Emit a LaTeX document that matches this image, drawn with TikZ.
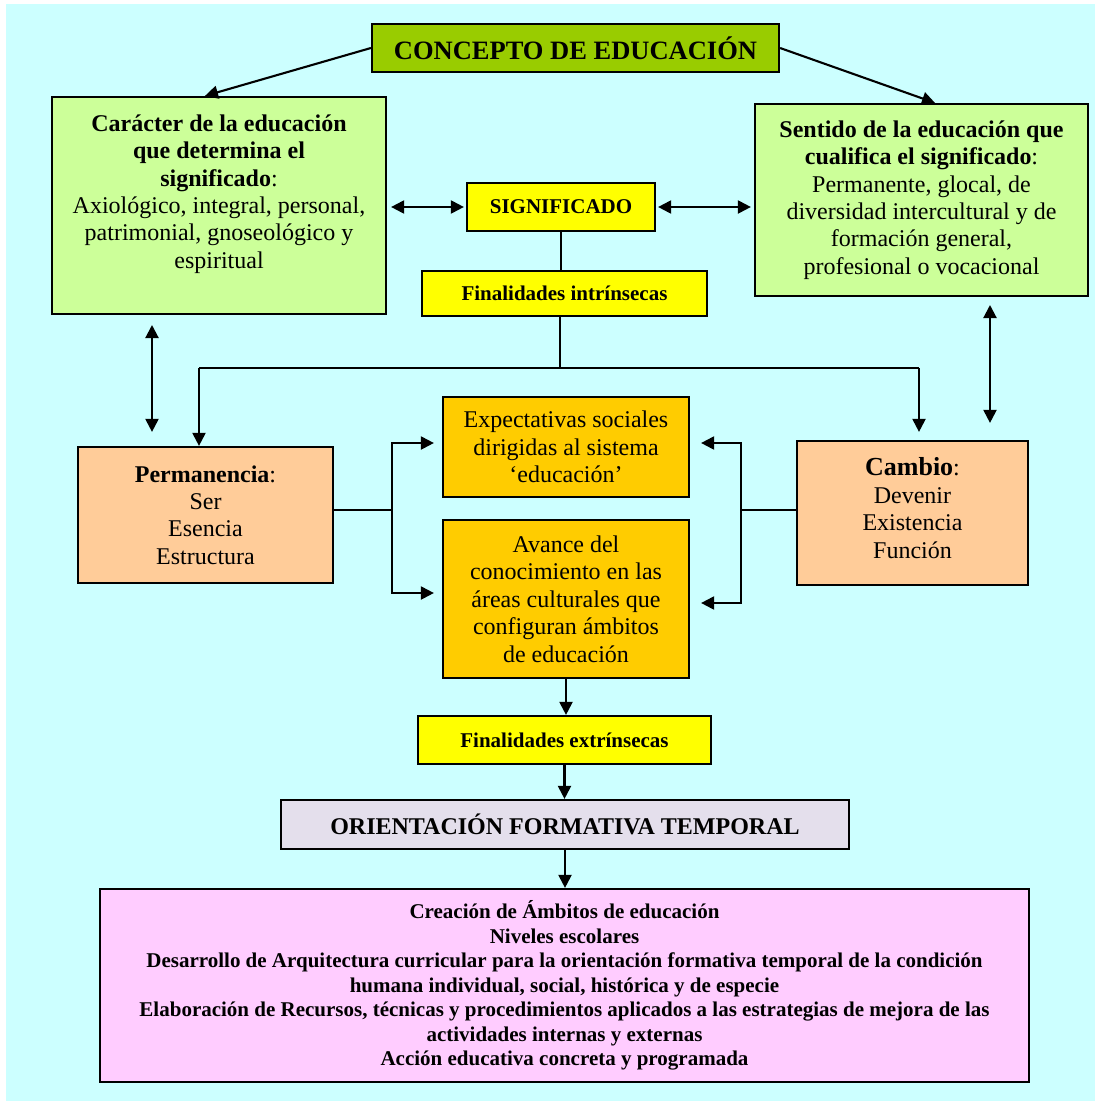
\documentclass[tikz,border=0pt]{standalone}
\usepackage{fontspec}
\setmainfont{Liberation Serif}
\usetikzlibrary{arrows.meta}
\definecolor{bgcyan}{HTML}{CCFFFF}
\definecolor{conceptgreen}{HTML}{99CC00}
\definecolor{lightgreen}{HTML}{CCFF99}
\definecolor{yellowbox}{HTML}{FFFF00}
\definecolor{orangebox}{HTML}{FFCC00}
\definecolor{peachbox}{HTML}{FFCC99}
\definecolor{lavenderbox}{HTML}{E4DFEC}
\definecolor{pinkbox}{HTML}{FFCCFF}
\begin{document}
\begin{tikzpicture}[x=1pt,y=-1pt,
  box/.style={draw=black, line width=2.2pt, inner sep=0pt, align=center},
  txt/.style={inner sep=0pt, align=center},
  regfont/.style={font=\fontsize{24}{27.4}\selectfont},
  smallbold/.style={font=\fontsize{21}{24.5}\selectfont\bfseries},
  conn/.style={line width=2.1pt},
  arr/.style={conn, -{Triangle[length=13pt,width=13pt]}},
  darr/.style={conn, {Triangle[length=13pt,width=13pt]}-{Triangle[length=13pt,width=13pt]}}
]
\useasboundingbox (0,0) rectangle (1095,1101);
\fill[white] (0,0) rectangle (1095,1101);
\fill[bgcyan] (6,4) rectangle (1095,1101);

% boxes
\node[box, fill=conceptgreen, minimum width=407pt, minimum height=48pt,
  font=\fontsize{26.5}{30}\selectfont\bfseries] (concepto) at (575.5,48) {CONCEPTO DE EDUCACIÓN};

\node[box, fill=lightgreen, minimum width=334pt, minimum height=217pt] (caracter) at (219,205.5) {};
\node[txt, regfont] (caractertxt) at (219,194)
  {\textbf{Carácter de la educación}\\\textbf{que determina el}\\\textbf{significado}:\\Axiológico, integral, personal,\\patrimonial, gnoseológico y\\espiritual};

\node[box, fill=lightgreen, minimum width=333pt, minimum height=192pt, regfont] (sentido) at (921.5,200)
  {\textbf{Sentido de la educación que}\\\textbf{cualifica el significado}:\\Permanente, glocal, de\\diversidad intercultural y de\\formación general,\\profesional o vocacional};

\node[box, fill=yellowbox, minimum width=188pt, minimum height=48pt, smallbold] (signif) at (561,207) {SIGNIFICADO};
\node[box, fill=yellowbox, minimum width=285pt, minimum height=45pt, smallbold] (finint) at (564.5,293.5) {Finalidades intrínsecas};

\node[box, fill=peachbox, minimum width=255pt, minimum height=136pt, regfont] (perm) at (205.5,515)
  {\textbf{Permanencia}:\\Ser\\Esencia\\Estructura};
\node[box, fill=peachbox, minimum width=231pt, minimum height=144pt] (cambio) at (912.5,513) {};
\node[txt, regfont] (cambiotxt) at (912.5,508)
  {{\fontsize{26}{27.4}\selectfont\textbf{Cambio}}:\\Devenir\\Existencia\\Función};

\node[box, fill=orangebox, minimum width=246pt, minimum height=100pt, regfont] (expect) at (566,447)
  {Expectativas sociales\\dirigidas al sistema\\‘educación’};
\node[box, fill=orangebox, minimum width=246pt, minimum height=158pt, regfont] (avance) at (566,599)
  {Avance del\\conocimiento en las\\áreas culturales que\\configuran ámbitos\\de educación};

\node[box, fill=yellowbox, minimum width=293pt, minimum height=48pt, smallbold] (finext) at (564.5,740) {Finalidades extrínsecas};
\node[box, fill=lavenderbox, minimum width=568pt, minimum height=49pt,
  font=\fontsize{24}{27.4}\selectfont\bfseries] (orient) at (565,824.5) {ORIENTACIÓN FORMATIVA TEMPORAL};
\node[box, fill=pinkbox, minimum width=929pt, minimum height=193pt, smallbold] (acciones) at (564.5,985.5)
  {Creación de Ámbitos de educación\\Niveles escolares\\Desarrollo de Arquitectura curricular para la orientación formativa temporal de la condición\\humana individual, social, histórica y de especie\\Elaboración de Recursos, técnicas y procedimientos aplicados a las estrategias de mejora de las\\actividades internas y externas\\Acción educativa concreta y programada};

% connectors
\draw[arr] (concepto.west) -- ([xshift=-14pt]caracter.north);
\draw[arr] (concepto.east) -- ([xshift=13.5pt]sentido.north);

\draw[darr, shorten <=4pt, shorten >=2pt] (caracter.east |- signif.west) -- (signif.west);
\draw[darr, shorten <=2pt, shorten >=3pt] (signif.east) -- (sentido.west |- signif.east);

\draw[conn, line width=1.6pt] (signif.south) -- (signif.south |- finint.north);
\coordinate (junc) at (560,368);
\coordinate (jl) at (199,368);
\coordinate (jr) at (919,368);
\draw[conn, line width=1.6pt] (junc |- finint.south) -- (junc);
\draw[conn, line width=1.6pt] (jl) -- (jr);
\draw[arr] (jl) -- (jl |- perm.north);
\draw[arr, shorten >=8pt] (jr) -- (jr |- cambio.north);

\coordinate (cpl) at (152,314);
\draw[darr, shorten <=11pt, shorten >=14pt] (cpl) -- (cpl |- perm.north);
\coordinate (cpr) at (990,296);
\draw[darr, shorten <=9pt, shorten >=17pt] (cpr) -- (cpr |- cambio.north);

\coordinate (pl) at (392,510);
\coordinate (plt) at (392,443);
\coordinate (plb) at (392,593);
\draw[conn, line width=1.6pt] (pl -| perm.east) -- (pl);
\draw[arr, shorten >=8pt] (plb) |- (plt -| expect.west);
\draw[arr, shorten >=8pt] (plt) |- (plb -| avance.west);

\coordinate (cr) at (741,510);
\coordinate (crt) at (741,443);
\coordinate (crb) at (741,603);
\draw[conn, line width=1.6pt] (cr -| cambio.west) -- (cr);
\draw[arr, shorten >=11pt] (crb) |- (crt -| expect.east);
\draw[arr, shorten >=11pt] (crt) |- (crb -| avance.east);

\draw[arr] (avance.south) -- (avance.south |- finext.north);
\draw[arr] (finext.south) -- (finext.south |- orient.north);
\draw[arr] (orient.south) -- (orient.south |- acciones.north);
\end{tikzpicture}
\end{document}
